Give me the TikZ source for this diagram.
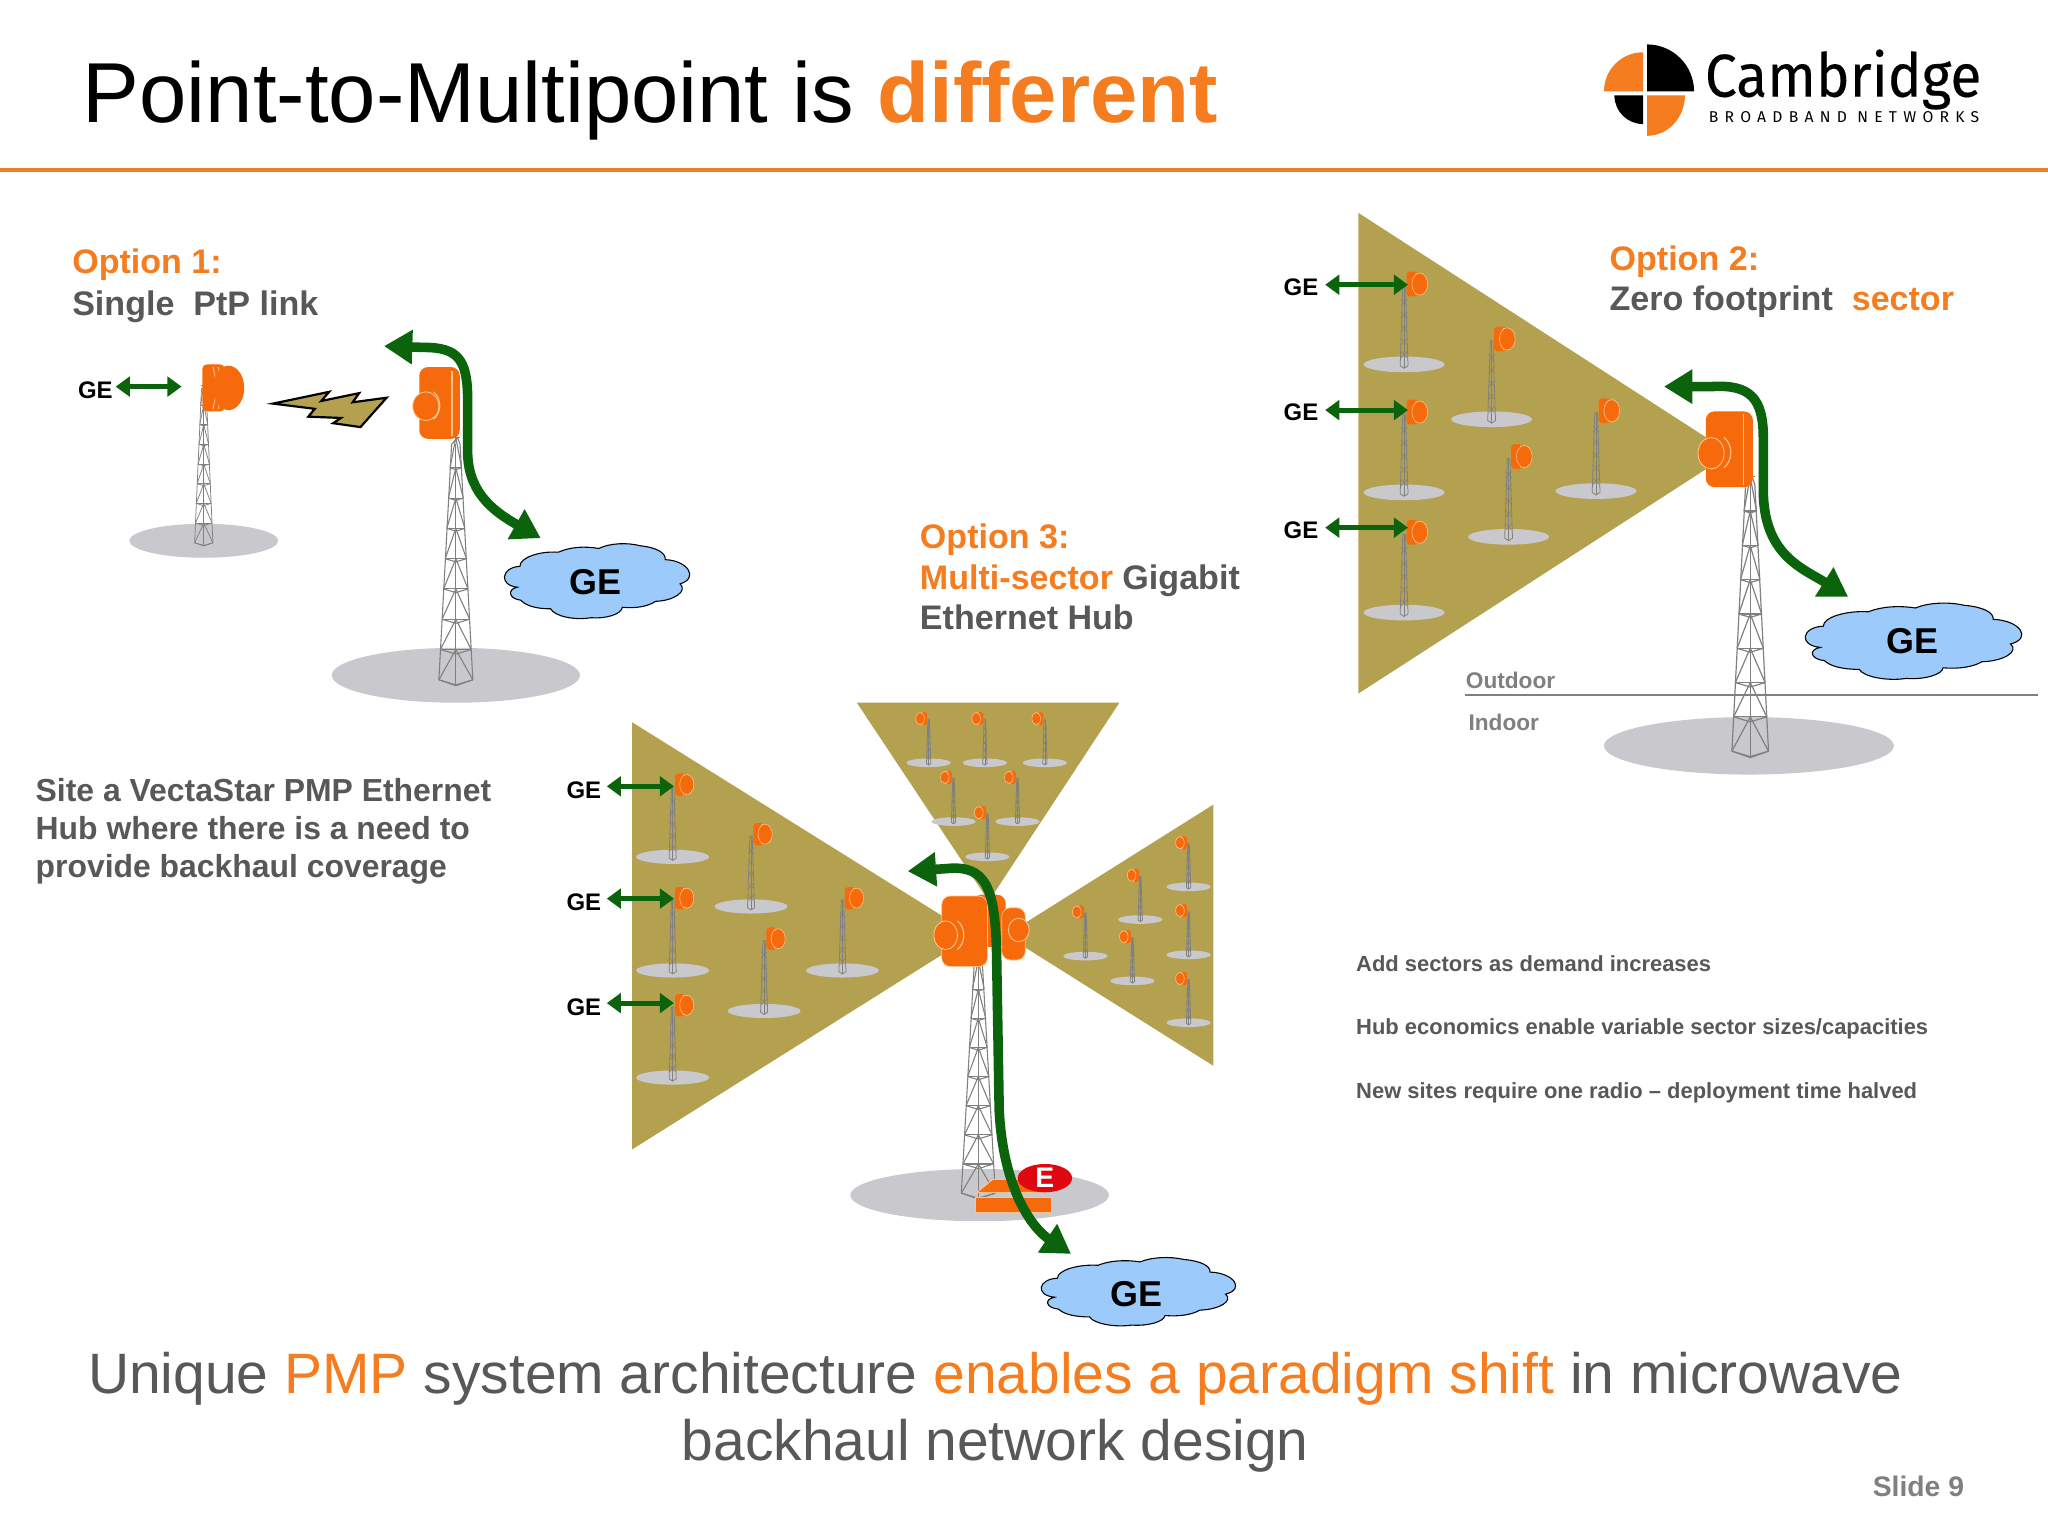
\documentclass[tikz,border=0pt]{standalone}
\usepackage{fontspec}
\setmainfont{Liberation Sans}
\newfontfamily\logof[FakeStretch=.94,FakeBold=.25]{Fira Sans}
\newfontfamily\logos[LetterSpace=40]{Fira Sans}
\usetikzlibrary{arrows.meta,shapes.geometric}
\definecolor{cborange}{HTML}{F57C1F}
\definecolor{radior}{HTML}{F76A0C}
\definecolor{radiol}{HTML}{FFC48C}
\definecolor{greytxt}{HTML}{58585A}
\definecolor{sector}{HTML}{B3A150}
\definecolor{fgreen}{HTML}{0B640B}
\definecolor{ground}{HTML}{C9C9CD}
\definecolor{cloudb}{HTML}{9CCBFB}
\definecolor{latt}{HTML}{808080}
\definecolor{redbadge}{HTML}{E00810}
\tikzset{
 x=0.6pt,y=-0.6pt,
 txt/.style={anchor=base west,inner sep=0pt,font=\fontsize{15.65}{18}\selectfont\bfseries,text=greytxt},
 ge/.style={inner sep=0pt,font=\fontsize{11}{13}\selectfont\bfseries,text=black},
 cge/.style={inner sep=0pt,font=\fontsize{16.5}{20}\selectfont\bfseries,text=black},
 flow/.style={draw=fgreen,line width=4.4pt,{Triangle[length=13pt,width=15pt]}-{Triangle[length=13pt,width=15pt]}},
 dbl/.style={draw=fgreen,line width=2.3pt,{Triangle[length=6.5pt,width=9pt]}-{Triangle[length=6.5pt,width=9pt]}},
 wedge/.style={fill=sector,draw=none},
 note/.style={txt,font=\fontsize{10.08}{13}\selectfont\bfseries},
 site/.style={txt,font=\fontsize{14.65}{18}\selectfont\bfseries},
 big/.style={inner sep=0pt,font=\fontsize{26.17}{33}\selectfont,text=greytxt},
 smallgrey/.style={anchor=base west,inner sep=0pt,font=\fontsize{10.4}{13}\selectfont\bfseries,text=latt},
}
% tower: x, base y, top y, half width at base, line width
\newcommand{\lattice}[5]{%
 \begin{scope}[draw=latt,line width=#5pt,line join=round]
  \pgfmathsetmacro{\tb}{#2}\pgfmathsetmacro{\tt}{#3}\pgfmathsetmacro{\hw}{#4}
  \draw (#1-\hw,\tb-\hw*.35) -- (#1-\hw*.25,\tt+4*\hw*.1) -- (#1+\hw*.1,\tt) -- (#1+\hw*.25,\tt+4*\hw*.1) -- (#1+\hw,\tb-\hw*.35) -- (#1,\tb) -- cycle;
  \draw (#1,\tb) -- (#1,\tt+4*\hw*.1);
  \foreach \k in {0,1,...,7}{
   \pgfmathsetmacro{\fa}{\k/8}\pgfmathsetmacro{\fb}{(\k+1)/8}
   \pgfmathsetmacro{\ya}{\tb-\hw*.35+(\tt-\tb+\hw*.35)*\fa}
   \pgfmathsetmacro{\yb}{\tb-\hw*.35+(\tt-\tb+\hw*.35)*\fb}
   \pgfmathsetmacro{\wa}{\hw*(1-.75*\fa)}
   \pgfmathsetmacro{\wb}{\hw*(1-.75*\fb)}
   \draw (#1-\wa,\ya) -- (#1,\ya+\wa*.3) -- (#1+\wa,\ya);
   \draw (#1-\wa,\ya) -- (#1,\yb) -- (#1+\wa,\ya);
   \draw (#1-\wb,\yb) -- (#1+\wb,\yb);
  }
 \end{scope}}
% ground ellipse: x y rx ry
\newcommand{\groundel}[4]{\fill[ground] (#1,#2) ellipse [x radius=#3,y radius=#4];}
% small station: ellipse centre x,y ; scale ; mirror
\newcommand{\ministn}[4]{%
 \begin{scope}[shift={(#1,#2)},scale=#3,xscale=#4]
  \fill[ground] (0,0) ellipse [x radius=31,y radius=6];
  \draw[latt,line width=.35pt] (-3,1) -- (-1,-60) -- (1,-60) -- (3,1) -- (0,3) -- cycle;
  \draw[latt,line width=.3pt] (0,3) -- (0,-60);
  \foreach \k in {-50,-40,...,-10}{\draw[latt,line width=.25pt] (-2.4,\k) -- (2.4,\k+5) (2.4,\k) -- (-2.4,\k+5);}
  \fill[radior,rounded corners=1.5pt] (2,-71) rectangle (11,-52);
  \draw[radiol,line width=.3pt] (9,-70) to[bend left=25] (9,-53);
  \fill[radior,draw=radiol,line width=.25pt] (12,-61.5) ellipse [x radius=6,y radius=8.5];
 \end{scope}}
% cloud normalised to -1..1, clockwise on the page
\newcommand{\cloudshape}[4]{%
 \begin{scope}[shift={(#1,#2)},xscale=#3,yscale=#4]
  \draw[fill=cloudb,draw=black,line width=.5pt]
  (-.83,-.40) to[bend left=50] (-.39,-.78) to[bend left=35] (.07,-.88)
  to[bend left=40] (.55,-.95) to[bend left=40] (.83,-.58)
  to[bend left=70] (1,.07) to[bend left=55] (.72,.54)
  to[bend left=35] (.34,.70) to[bend left=50] (-.02,.98)
  to[bend left=50] (-.48,.74) to[bend left=35] (-.82,.51)
  to[bend left=70] (-.86,.16) to[bend left=80] (-.83,-.40) -- cycle;
 \end{scope}}
\begin{document}
\begin{tikzpicture}
\useasboundingbox (0,0) rectangle (1568,1176);
\fill[white] (0,0) rectangle (1568,1176);

% header
\node[anchor=base west,inner sep=0pt,font=\fontsize{39.1}{48}\selectfont] (title) at (63,93.5) {Point-to-Multipoint is \textcolor{cborange}{\bfseries different}};
\draw[cborange,line width=2.1pt] (0,130) -- (1568,130);

% logo
\fill[black] (1261,70) -- (1297,70) arc[start angle=0,end angle=-90,x radius=36,y radius=36] -- cycle;
\fill[cborange] (1258,70) -- (1228,70) arc[start angle=180,end angle=270,x radius=30,y radius=30] -- cycle;
\fill[black] (1258,73) -- (1236,73) arc[start angle=180,end angle=90,x radius=22,y radius=22] -- cycle;
\fill[cborange] (1261,73) -- (1290,73) arc[start angle=0,end angle=90,x radius=29,y radius=31] -- cycle;
\node[anchor=base west,inner sep=0pt,font=\logof\fontsize{27.8}{32}\selectfont] (cam) at (1305,74) {Cambridge};
\node[anchor=base west,inner sep=0pt,font=\logos\fontsize{7.2}{9}\selectfont] (bbn) at (1308,94) {BROADBAND NETWORKS};

% option 1
\node[txt,text=cborange] (o1a) at (55,209.5) {Option 1:};
\node[txt] (o1b) at (55,241.5) {Single\ \ PtP link};
\groundel{156}{414}{57}{13}
\lattice{156}{418}{295}{7}{.35}
\fill[radior,rounded corners=2pt] (155,279) rectangle (172,315);
\draw[radiol,line width=.4pt] (163,281) to[bend left=15] (163,313) (167,281) to[bend left=15] (167,313);
\fill[radior] (175,297) ellipse [x radius=12,y radius=17];
\node[ge] (ge1) at (73,299) {GE};
\coordinate (r1) at (139,296);
\draw[dbl] (ge1.east |- r1) ++(2,0) -- (r1);
\fill[sector,draw=black,line width=1pt,line join=miter] (209,309) -- (252,300) -- (246,307) -- (275,301) -- (270,308) -- (296,304.5) -- (276,327) -- (255,324) -- (261,320) -- (236,319) -- (241,313) -- cycle;
\groundel{349}{517}{95}{21}
\lattice{349}{525}{335}{13}{.5}
\fill[radior,rounded corners=4pt] (321,281) rectangle (352,336);
\draw[radiol,line width=.6pt] (346,284) -- (346,334);
\draw[radiol,line width=.5pt] (332,300) to[bend left=50] (332,321);
\fill[radior,draw=radiol,line width=.4pt] (326,311) ellipse [x radius=10,y radius=11];
\coordinate (a1s) at (294,265);
\coordinate (a1e) at (414,412);
\draw[flow] (a1s) -- (325,266) .. controls (350,266) and (358,275) .. (358,305) -- (358,345) .. controls (358,375) and (375,390) .. (a1e);
\cloudshape{453.7}{445}{67}{28.5}
\node[cge] (g1) at (456,446) {GE};

% option 2
\node[txt,text=cborange] (o2a) at (1232,207) {Option 2:};
\node[txt] (o2b) at (1232,238) {Zero footprint\ \ \textcolor{cborange}{sector}};
\fill[wedge] (1040,163) -- (1325,347) -- (1040,531) -- cycle;
\foreach \px/\py in {1075/279,1142/321,1075/377,1222/376,1155/411,1075/469}{\ministn{\px}{\py}{1}{1}}
\foreach \py/\tn in {220/a,316/b,406/c}{
 \node[ge] (g2\tn) at (996,\py) {GE};
 \coordinate (h2\tn) at (1078,\py-2);
 \draw[dbl] (g2\tn.east) ++(5,-2) -- (h2\tn);
}
\draw[latt,line width=1.1pt] (1122,532) -- (1560,532);
\node[smallgrey] (out) at (1122,527.5) {Outdoor};
\node[smallgrey] (ind) at (1124,559.5) {Indoor};
\groundel{1339}{571}{111}{22}
\lattice{1340}{580}{365}{14}{.55}
\fill[radior,rounded corners=4pt] (1306,315) rectangle (1342,373);
\draw[radiol,line width=.6pt] (1335,317) -- (1335,371);
\draw[radiol,line width=.5pt] (1320,335) to[bend left=50] (1320,358);
\fill[radior,draw=radiol,line width=.4pt] (1310,347) ellipse [x radius=10,y radius=12];
\coordinate (a2s) at (1274,296);
\coordinate (a2e) at (1415,457);
\draw[flow] (a2s) -- (1310,296) .. controls (1340,294) and (1350,305) .. (1350,335) -- (1350,375) .. controls (1350,425) and (1380,435) .. (a2e);
\cloudshape{1461}{491}{78.3}{29}
\node[cge] (g2) at (1464,491) {GE};

% option 3
\node[txt,text=cborange] (o3a) at (704,420) {Option 3:};
\node[txt] (o3b) at (704,451) {\textcolor{cborange}{Multi-sector} Gigabit};
\node[txt] (o3c) at (704,482) {Ethernet Hub};
\node[site] (s1) at (27,614) {Site a VectaStar PMP Ethernet};
\node[site] (s2) at (27,643) {Hub where there is a need to};
\node[site] (s3) at (27,672) {provide backhaul coverage};
\fill[wedge] (484,553) -- (745,716) -- (484,880) -- cycle;
\fill[wedge] (656,538) -- (857,538) -- (757,690) -- cycle;
\fill[wedge] (929,616) -- (770,716) -- (929,816) -- cycle;
\foreach \px/\py in {515/656,575/694,515/743,645/743,585/774,515/825}{\ministn{\px}{\py}{.9}{1}}
\foreach \px/\py in {711/584,754/584,800/584,730/629,779/629,756/656}{\ministn{\px}{\py}{.55}{-1}}
\foreach \px/\py in {910/679,873/704,831/732,910/731,867/751,910/783}{\ministn{\px}{\py}{.55}{-1}}
\foreach \py/\ay/\tn in {605/602/a,691/688/b,771/768/c}{
 \node[ge] (g3\tn) at (447,\py) {GE};
 \coordinate (h3\tn) at (516,\ay);
 \draw[dbl] (g3\tn.east |- h3\tn) ++(4,0) -- (h3\tn);
}
\groundel{750}{915}{99}{20}
\lattice{749}{918}{735}{13}{.5}
% hub radios
\fill[radior,rounded corners=4pt] (745,685) rectangle (770,725);
\fill[radior,rounded corners=4pt,draw=radiol,line width=.3pt] (767,695) rectangle (785,735);
\fill[radior,draw=radiol,line width=.4pt] (780,712) ellipse [x radius=8,y radius=9];
\fill[radior,rounded corners=4pt,draw=radiol,line width=.3pt] (721,686) rectangle (756,740);
\draw[radiol,line width=.5pt] (733,705) to[bend left=50] (733,727);
\fill[radior,draw=radiol,line width=.4pt] (724,716) ellipse [x radius=9,y radius=11];
% indoor unit
\fill[radior,draw=radiol,line width=.4pt] (748,913) -- (760,903) -- (782,903) -- (800,913) -- cycle;
\fill[radior,draw=radiol,line width=.4pt] (747,917) rectangle (805,928);
\node[ellipse,fill=redbadge,minimum width=25pt,minimum height=13pt,inner sep=0pt,font=\fontsize{13}{15}\selectfont\bfseries,text=white] (edge) at (800,902) {E};
\coordinate (a3s) at (695,667);
\coordinate (a3e) at (820,960);
\draw[flow] (a3s) -- (725,665) .. controls (755,662) and (762,680) .. (763,730) -- (765,850) .. controls (768,910) and (790,940) .. (a3e);
\cloudshape{868}{989}{70.3}{26}
\node[cge] (g3) at (870,991) {GE};

% notes
\node[note] (n1) at (1038,744) {Add sectors as demand increases};
\node[note] (n2) at (1038,792) {Hub economics enable variable sector sizes/capacities};
\node[note] (n3) at (1038,841) {New sites require one radio -- deployment time halved};

% bottom line
\node[big,anchor=base] (b1) at (762,1066.5) {Unique \textcolor{cborange}{PMP} system architecture \textcolor{cborange}{enables a paradigm shift} in microwave};
\node[big,anchor=base] (b2) at (762,1118.5) {backhaul network design};
\node[anchor=base east,inner sep=0pt,font=\fontsize{13}{15}\selectfont\bfseries,text=gray] (sl) at (1504,1146) {Slide 9};
\end{tikzpicture}
\end{document}
